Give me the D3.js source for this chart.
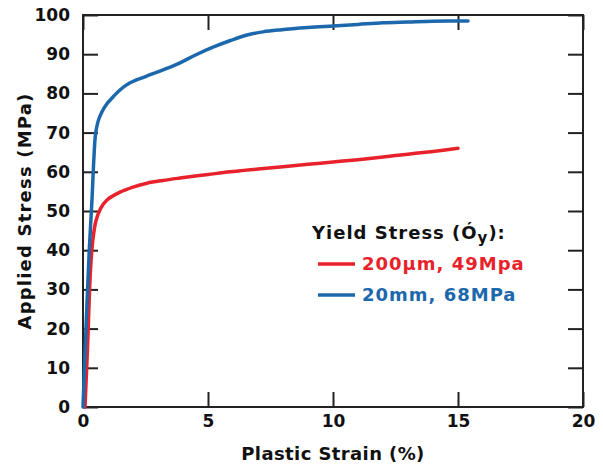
<!DOCTYPE html>
<html>
<head>
<meta charset="utf-8">
<script src="https://cdn.jsdelivr.net/npm/d3@7"></script>
<style>
  body { margin: 0; background: #fff; }
  text { font-family: "DejaVu Sans", "Open Sans", sans-serif; font-weight: 700; }
</style>
</head>
<body>
<div id="chart"></div>
<script>
var svgWidth = 603;
var svgHeight = 465;

var margin = { top: 15, right: 20, bottom: 58, left: 83 };
var width = svgWidth - margin.left - margin.right;
var height = svgHeight - margin.top - margin.bottom;

// data: [strain %, stress MPa]
var fineGrain = [[0.08,0],[0.18,15],[0.3,35],[0.4,43],[0.52,47.5],[0.7,50.6],[0.96,52.8],[1.48,54.8],[2,56.1],[2.56,57.1],[3.2,57.8],[3.88,58.4],[5,59.3],[5.88,60],[7,60.7],[8,61.3],[9,61.9],[10,62.5],[11,63.1],[12,63.8],[13,64.5],[14,65.2],[15,66]];
var coarseGrain = [[0,0],[0.12,20],[0.25,40],[0.36,53],[0.44,64],[0.5,69.5],[0.6,72.8],[0.75,75.2],[0.95,77.3],[1.2,79.1],[1.5,81],[1.88,82.7],[2.5,84.3],[3.2,86],[3.88,87.8],[4.5,89.8],[5.2,91.8],[5.9,93.5],[6.56,94.9],[7.2,95.7],[7.88,96.2],[9,96.8],[10,97.2],[11,97.6],[12,98],[13,98.2],[14,98.4],[15.4,98.5]];
var xTicks = [0, 5, 10, 15, 20];
var yTicks = [0, 10, 20, 30, 40, 50, 60, 70, 80, 90, 100];
var legendLabels = ["200\u00b5m, 49Mpa", "20mm, 68MPa"];
var colors = ["#e8222a", "#1c68ad"];

var svg = d3.select("#chart")
  .append("svg")
  .attr("width", svgWidth)
  .attr("height", svgHeight);

var chartGroup = svg.append("g")
  .attr("transform", `translate(${margin.left}, ${margin.top})`);

var xScale = d3.scaleLinear().domain([0, 20]).range([0, width]);
var yScale = d3.scaleLinear().domain([0, 100]).range([height, 0]);

// inward ticks on all four sides
var tickLen = 15;
var axes = [
  { axis: d3.axisBottom(xScale).tickValues(xTicks).tickSizeInner(-tickLen).tickSizeOuter(0).tickPadding(8), t: `translate(0, ${height})`, labels: true },
  { axis: d3.axisTop(xScale).tickValues(xTicks).tickSizeInner(-tickLen).tickSizeOuter(0), t: "translate(0,0)", labels: false },
  { axis: d3.axisLeft(yScale).tickValues(yTicks).tickSizeInner(-tickLen).tickSizeOuter(0).tickPadding(13), t: "translate(0,0)", labels: true },
  { axis: d3.axisRight(yScale).tickValues(yTicks).tickSizeInner(-tickLen).tickSizeOuter(0), t: `translate(${width},0)`, labels: false }
];
axes.forEach(function(a) {
  var g = chartGroup.append("g").attr("transform", a.t).call(a.axis);
  g.select(".domain").remove();
  g.selectAll(".tick line").attr("stroke", "#222").attr("stroke-width", 2);
  g.selectAll(".tick text")
    .attr("fill", "#111")
    .style("font-size", "17px")
    .style("display", a.labels ? null : "none");
});

chartGroup.append("rect")
  .attr("width", width)
  .attr("height", height)
  .attr("fill", "none")
  .attr("stroke", "#222")
  .attr("stroke-width", 2);

var line = d3.line()
  .x(d => xScale(d[0]))
  .y(d => yScale(d[1]))
  .curve(d3.curveCatmullRom.alpha(0.5));

[fineGrain, coarseGrain].forEach(function(series, i) {
  chartGroup.append("path")
    .datum(series)
    .attr("d", line)
    .attr("fill", "none")
    .attr("stroke", colors[i])
    .attr("stroke-width", 3.5)
    .attr("stroke-linecap", "round");
});

// legend
var legend = chartGroup.append("g").attr("transform", "translate(229, 224)");
var title = legend.append("text")
  .attr("x", 0).attr("y", 0)
  .attr("fill", "#111")
  .style("font-size", "18px")
  .style("letter-spacing", "1px");
title.append("tspan").text("Yield Stress (\u00d3");
title.append("tspan").attr("dy", 4).style("font-size", "15px").text("y");
title.append("tspan").attr("dy", -4).text("):");

legendLabels.forEach(function(lbl, i) {
  var y = 31 + i * 31;
  legend.append("line")
    .attr("x1", 6).attr("x2", 43)
    .attr("y1", y - 6).attr("y2", y - 6)
    .attr("stroke", colors[i])
    .attr("stroke-width", 3.5);
  legend.append("text")
    .attr("x", 50).attr("y", y)
    .attr("fill", colors[i])
    .style("font-size", "18px")
    .style("letter-spacing", "1px")
    .text(lbl);
});

// axis titles
chartGroup.append("text")
  .attr("x", width / 2)
  .attr("y", height + 53)
  .attr("text-anchor", "middle")
  .attr("fill", "#111")
  .style("font-size", "18px")
  .style("letter-spacing", "0.4px")
  .text("Plastic Strain (%)");

chartGroup.append("text")
  .attr("transform", "rotate(-90)")
  .attr("x", -(height / 2))
  .attr("y", -margin.left + 31)
  .attr("text-anchor", "middle")
  .attr("fill", "#111")
  .style("font-size", "18px")
  .style("letter-spacing", "1.2px")
  .text("Applied Stress (MPa)");
</script>
</body>
</html>
